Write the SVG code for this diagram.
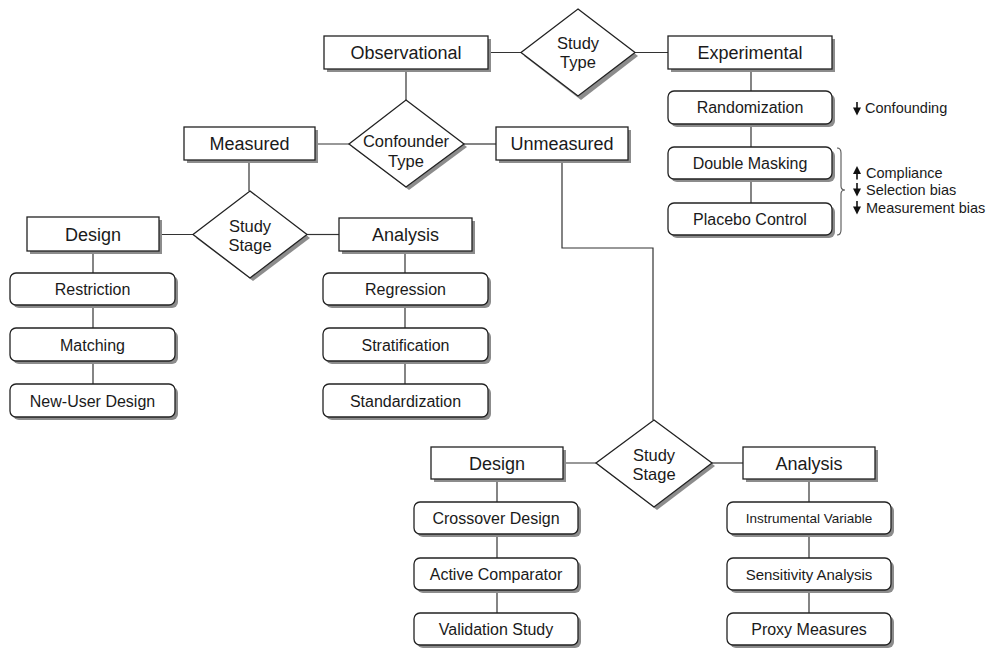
<svg xmlns="http://www.w3.org/2000/svg" xmlns:xlink="http://www.w3.org/1999/xlink" width="995" height="648" viewBox="0 0 995 648">
<style>
text{font-family:"Liberation Sans",Arial,Helvetica,sans-serif;fill:#1a1a1a;text-anchor:middle}
.main{font-size:18px}
.child{font-size:16px}
.dia{font-size:16.5px}
.note{font-size:14.5px;text-anchor:start}
.box{fill:#fff;stroke:#222;stroke-width:1.3}
.shadow{fill:#8c8c8c;stroke:none}
.line{fill:none;stroke:#333;stroke-width:1.2}
</style>
<defs>
<g id="adown"><line x1="0" y1="0" x2="0" y2="7" stroke="#111" stroke-width="1.6"/><polygon points="-4,5.5 4,5.5 0,13.5" fill="#111"/></g>
<g id="aup"><line x1="0" y1="13.5" x2="0" y2="6" stroke="#111" stroke-width="1.6"/><polygon points="-4,8 4,8 0,0" fill="#111"/></g>
</defs>
<rect width="995" height="648" fill="#fff"/>

<g id="connectors">
<line class="line" x1="488" y1="52.5" x2="521" y2="52.5"/>
<line class="line" x1="635" y1="52.5" x2="668" y2="52.5"/>
<line class="line" x1="406" y1="69" x2="406" y2="100"/>
<line class="line" x1="315" y1="144" x2="349" y2="144"/>
<line class="line" x1="464" y1="144" x2="496" y2="144"/>
<line class="line" x1="249" y1="160" x2="249" y2="191"/>
<line class="line" x1="159" y1="234.5" x2="193" y2="234.5"/>
<line class="line" x1="307" y1="234.5" x2="339" y2="234.5"/>
<line class="line" x1="93" y1="251" x2="93" y2="273"/>
<line class="line" x1="93" y1="305" x2="93" y2="328"/>
<line class="line" x1="93" y1="361" x2="93" y2="384"/>
<line class="line" x1="405" y1="251" x2="405" y2="273"/>
<line class="line" x1="405" y1="305" x2="405" y2="328"/>
<line class="line" x1="405" y1="361" x2="405" y2="384"/>
<line class="line" x1="751" y1="69" x2="751" y2="91"/>
<line class="line" x1="751" y1="124" x2="751" y2="147"/>
<line class="line" x1="751" y1="179" x2="751" y2="203"/>
<polyline class="line" points="562,160 562,248 653,248 653,420"/>
<line class="line" x1="563" y1="463" x2="596" y2="463"/>
<line class="line" x1="712" y1="463" x2="743" y2="463"/>
<line class="line" x1="497" y1="479" x2="497" y2="502"/>
<line class="line" x1="497" y1="534" x2="497" y2="558"/>
<line class="line" x1="497" y1="590" x2="497" y2="613"/>
<line class="line" x1="809" y1="479" x2="809" y2="502"/>
<line class="line" x1="809" y1="534" x2="809" y2="558"/>
<line class="line" x1="809" y1="590" x2="809" y2="613"/>
</g>

<!-- Top level -->
<g id="observational"><rect class="shadow" x="327" y="39" width="164" height="33"/><rect class="box" x="324" y="36" width="164" height="33"/><text class="main" x="406" y="59">Observational</text></g>
<g id="study-type"><polygon class="shadow" points="581,12 638,56 581,100 524,56"/><polygon class="box" points="578,9 635,52.5 578,96 521,52.5"/><text class="dia" x="578" y="49">Study</text><text class="dia" x="578" y="68">Type</text></g>
<g id="experimental"><rect class="shadow" x="671" y="39" width="164" height="33"/><rect class="box" x="668" y="36" width="164" height="33"/><text class="main" x="750" y="59">Experimental</text></g>

<g id="randomization"><rect class="shadow" x="671" y="94" width="164" height="33" rx="6"/><rect class="box" x="668" y="91" width="164" height="33" rx="6"/><text class="child" x="750" y="113">Randomization</text></g>
<g id="double-masking"><rect class="shadow" x="671" y="150" width="164" height="32" rx="6"/><rect class="box" x="668" y="147" width="164" height="32" rx="6"/><text class="child" x="750" y="169">Double Masking</text></g>
<g id="placebo-control"><rect class="shadow" x="671" y="206" width="164" height="32" rx="6"/><rect class="box" x="668" y="203" width="164" height="32" rx="6"/><text class="child" x="750" y="225">Placebo Control</text></g>

<g id="annotations">
<use xlink:href="#adown" href="#adown" x="857" y="102"/>
<text class="note" x="865" y="113">Confounding</text>
<path d="M837,148 Q841,148 841,153 L841,186 Q841,190 845,190 Q841,190 841,194 L841,230 Q841,235 837,235" fill="none" stroke="#555" stroke-width="1.1"/>
<use xlink:href="#aup" href="#aup" x="857" y="166"/>
<text class="note" x="866" y="178">Compliance</text>
<use xlink:href="#adown" href="#adown" x="857" y="183"/>
<text class="note" x="866" y="195">Selection bias</text>
<use xlink:href="#adown" href="#adown" x="857" y="201"/>
<text class="note" x="866" y="213">Measurement bias</text>
</g>

<g id="confounder-type"><polygon class="shadow" points="409,103 467,147 409,190 352,147"/><polygon class="box" points="406,100 464,144 406,187 349,144"/><text class="dia" x="406" y="147">Confounder</text><text class="dia" x="406" y="167">Type</text></g>
<g id="measured"><rect class="shadow" x="187" y="130" width="131" height="33"/><rect class="box" x="184" y="127" width="131" height="33"/><text class="main" x="249.5" y="150">Measured</text></g>
<g id="unmeasured"><rect class="shadow" x="499" y="130" width="132" height="33"/><rect class="box" x="496" y="127" width="132" height="33"/><text class="main" x="562" y="150">Unmeasured</text></g>

<!-- Measured branch -->
<g id="study-stage-m"><polygon class="shadow" points="253,194 310,238 253,281 196,238"/><polygon class="box" points="250,191 307,234.5 250,278 193,234.5"/><text class="dia" x="250" y="232">Study</text><text class="dia" x="250" y="251">Stage</text></g>
<g id="design-m"><rect class="shadow" x="30" y="220" width="132" height="34"/><rect class="box" x="27" y="217" width="132" height="34"/><text class="main" x="93" y="240.5">Design</text></g>
<g id="analysis-m"><rect class="shadow" x="342" y="221" width="133" height="33"/><rect class="box" x="339" y="218" width="133" height="33"/><text class="main" x="405.5" y="240.5">Analysis</text></g>

<g id="restriction"><rect class="shadow" x="13" y="276" width="165" height="32" rx="6"/><rect class="box" x="10" y="273" width="165" height="32" rx="6"/><text class="child" x="92.5" y="295">Restriction</text></g>
<g id="matching"><rect class="shadow" x="13" y="331" width="165" height="33" rx="6"/><rect class="box" x="10" y="328" width="165" height="33" rx="6"/><text class="child" x="92.5" y="350.5">Matching</text></g>
<g id="new-user-design"><rect class="shadow" x="13" y="387" width="165" height="33" rx="6"/><rect class="box" x="10" y="384" width="165" height="33" rx="6"/><text class="child" x="92.5" y="406.5">New-User Design</text></g>

<g id="regression"><rect class="shadow" x="326" y="276" width="165" height="32" rx="6"/><rect class="box" x="323" y="273" width="165" height="32" rx="6"/><text class="child" x="405.5" y="295">Regression</text></g>
<g id="stratification"><rect class="shadow" x="326" y="331" width="165" height="33" rx="6"/><rect class="box" x="323" y="328" width="165" height="33" rx="6"/><text class="child" x="405.5" y="350.5">Stratification</text></g>
<g id="standardization"><rect class="shadow" x="326" y="387" width="165" height="33" rx="6"/><rect class="box" x="323" y="384" width="165" height="33" rx="6"/><text class="child" x="405.5" y="406.5">Standardization</text></g>

<!-- Unmeasured branch -->
<g id="study-stage-u"><polygon class="shadow" points="657,423 715,466 657,510 599,466"/><polygon class="box" points="654,420 712,463 654,507 596,463"/><text class="dia" x="654" y="461">Study</text><text class="dia" x="654" y="480">Stage</text></g>
<g id="design-u"><rect class="shadow" x="434" y="450" width="132" height="32"/><rect class="box" x="431" y="447" width="132" height="32"/><text class="main" x="497" y="469.5">Design</text></g>
<g id="analysis-u"><rect class="shadow" x="746" y="450" width="132" height="32"/><rect class="box" x="743" y="447" width="132" height="32"/><text class="main" x="809" y="469.5">Analysis</text></g>

<g id="crossover-design"><rect class="shadow" x="417" y="505" width="164" height="32" rx="6"/><rect class="box" x="414" y="502" width="164" height="32" rx="6"/><text class="child" x="496" y="524">Crossover Design</text></g>
<g id="active-comparator"><rect class="shadow" x="417" y="561" width="164" height="32" rx="6"/><rect class="box" x="414" y="558" width="164" height="32" rx="6"/><text class="child" x="496" y="580">Active Comparator</text></g>
<g id="validation-study"><rect class="shadow" x="417" y="616" width="164" height="32" rx="6"/><rect class="box" x="414" y="613" width="164" height="32" rx="6"/><text class="child" x="496" y="635">Validation Study</text></g>

<g id="instrumental-variable"><rect class="shadow" x="730" y="505" width="164" height="32" rx="6"/><rect class="box" x="727" y="502" width="164" height="32" rx="6"/><text class="child" x="809" y="523" style="font-size:13.5px">Instrumental Variable</text></g>
<g id="sensitivity-analysis"><rect class="shadow" x="730" y="561" width="164" height="32" rx="6"/><rect class="box" x="727" y="558" width="164" height="32" rx="6"/><text class="child" x="809" y="579.5" style="font-size:15px">Sensitivity Analysis</text></g>
<g id="proxy-measures"><rect class="shadow" x="730" y="616" width="164" height="32" rx="6"/><rect class="box" x="727" y="613" width="164" height="32" rx="6"/><text class="child" x="809" y="635">Proxy Measures</text></g>
</svg>
